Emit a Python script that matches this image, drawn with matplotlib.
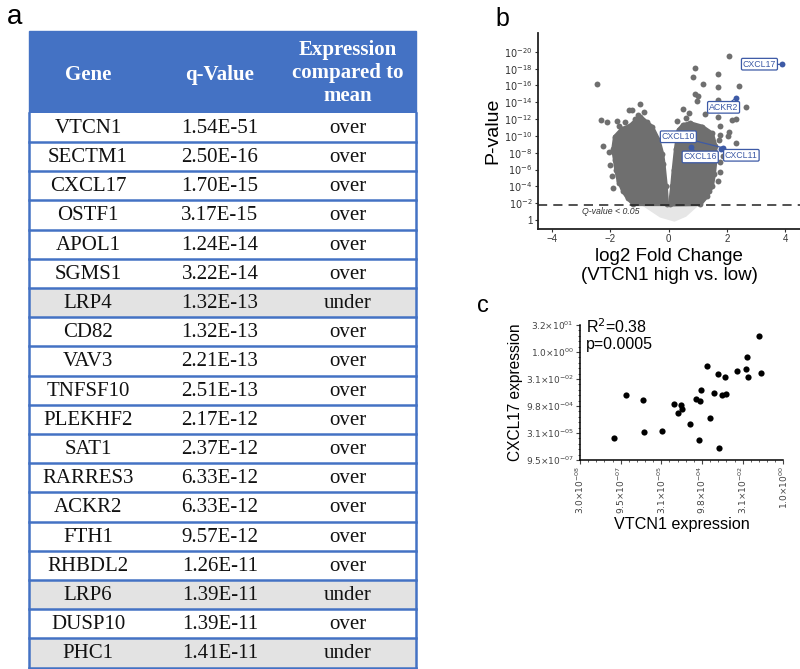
import numpy as np
import matplotlib
matplotlib.use("Agg")
import matplotlib.pyplot as plt
from matplotlib.patches import Rectangle
from matplotlib.ticker import NullFormatter

# ---- panel a: table ----
genes = ["VTCN1", "SECTM1", "CXCL17", "OSTF1", "APOL1", "SGMS1", "LRP4", "CD82",
         "VAV3", "TNFSF10", "PLEKHF2", "SAT1", "RARRES3", "ACKR2", "FTH1",
         "RHBDL2", "LRP6", "DUSP10", "PHC1"]
qvalues = ["1.54E-51", "2.50E-16", "1.70E-15", "3.17E-15", "1.24E-14", "3.22E-14",
           "1.32E-13", "1.32E-13", "2.21E-13", "2.51E-13", "2.17E-12", "2.37E-12",
           "6.33E-12", "6.33E-12", "9.57E-12", "1.26E-11", "1.39E-11", "1.39E-11",
           "1.41E-11"]
expression = ["over", "over", "over", "over", "over", "over", "under", "over",
              "over", "over", "over", "over", "over", "over", "over", "over",
              "under", "over", "under"]
headers = ["Gene", "q-Value", "Expression\ncompared to\nmean"]

# ---- panel b: volcano (x = log2 fold change, y = -log10 p) ----
left_blob_x = [-1.21, -1.4, -1.55, -1.72, -1.8, -1.84, -1.9, -1.84, -1.6, -1.32,
               -0.98, -0.75, -0.58, -0.35, -0.22, -0.18, -0.1, -0.06]
left_blob_y = [1.9, 2.6, 3.4, 4.7, 6.0, 7.1, 8.4, 9.9, 10.8, 11.2,
               12.3, 11.6, 11.1, 9.5, 7.8, 6.7, 4.0, 1.9]
right_blob_x = [0.05, 0.12, 0.17, 0.25, 0.34, 0.5, 0.74, 1.14, 1.48, 1.6,
                1.6, 1.55, 1.48, 1.3, 1.08]
right_blob_y = [1.85, 4.0, 5.9, 8.5, 10.7, 11.3, 11.5, 11.1, 10.3, 8.8,
                7.1, 5.5, 4.0, 2.8, 1.9]
ns_blob_x = [-0.95, 1.05, 0.6, 0.2, -0.3]
ns_blob_y = [1.8, 1.8, 0.4, -0.2, 0.3]
out_x = [-2.47, -0.98, -1.36, -1.25, -1.04, -2.33, -2.1, -1.76, -1.69, -2.26,
         -2.03, -1.84, -1.9, -1.72, -1.55, -1.95, -2.0, -1.5, -1.15, -0.85,
         2.06, 0.89, 1.68, 0.83, 1.16, 2.41, 1.69, 0.89, 1.02, 1.69, 0.97, 2.66,
         0.49, 0.71, 1.25, 1.68, 2.17, 2.32, 1.77, 2.06, 1.77, 2.03, 2.32, 1.75,
         1.75, 1.68, 1.37, 1.25, 1.85, 1.72, 0.3, 0.6]
out_y = [16.2, 13.8, 13.1, 13.1, 12.5, 11.9, 11.7, 11.8, 11.2, 8.8,
         8.1, 8.3, 3.8, 4.4, 3.8, 5.2, 6.5, 11.6, 12.0, 12.8,
         19.5, 18.1, 17.4, 16.95, 16.2, 15.9, 15.8, 15.0, 14.7, 14.3, 14.1, 13.4,
         13.2, 12.7, 12.6, 12.3, 11.9, 12.0, 11.2, 10.5, 10.1, 10.0, 9.2, 6.9,
         5.7, 4.7, 3.5, 3.0, 7.6, 9.5, 11.8, 12.1]
lab_names = ["CXCL17", "ACKR2", "CXCL10", "CXCL16", "CXCL11"]
lab_px = [3.89, 2.3, 1.85, 0.76, 1.79]
lab_py = [18.5, 14.5, 8.6, 8.7, 8.5]
lab_tx = [3.11, 1.88, 0.33, 1.08, 2.49]
lab_ty = [18.53, 13.4, 9.9, 7.5, 7.7]
q_cut = 1.78

# ---- panel c: scatter (log2 units) ----
vtcn1_log2 = [-20.86, -19.34, -17.25, -17.17, -14.95, -13.44, -12.58, -12.5, -12.99,
              -11.51, -10.77, -10.2, -10.12, -10.36, -9.42, -8.97, -8.48, -8.07,
              -7.9, -7.5, -7.04, -7.2, -5.65, -4.62, -4.42, -4.38, -2.94, -2.7]
cxcl17_log2 = [-15.87, -7.96, -8.89, -14.76, -14.57, -9.57, -9.88, -10.62, -11.24,
               -13.39, -8.76, -9.01, -7.04, -16.36, -2.59, -12.28, -7.65, -4.07,
               -17.84, -7.96, -7.84, -4.63, -3.52, -3.09, -0.87, -4.63, 2.96, -3.94]
c_xticks = [-25, -20, -15, -10, -5, 0]
c_xlabels = ["3.0", "9.5", "3.1", "9.8", "3.1", "1.0"]
c_xexp = ["-08", "-07", "-05", "-04", "-02", "00"]
c_yticks = [-20, -15, -10, -5, 0, 5]
c_ylabels = ["9.5", "3.1", "9.8", "3.1", "1.0", "3.2"]
c_yexp = ["-07", "-05", "-04", "-02", "00", "01"]

W, H = 800, 669
fig = plt.figure(figsize=(8, 6.69), dpi=100)
sans = "Liberation Sans"
serif = "Liberation Serif"
blue = "#4472C4"
lblue = "#3d5aa6"

# table drawn in pixel coordinates
ax = fig.add_axes([0, 0, 1, 1])
ax.set_xlim(0, W)
ax.set_ylim(H, 0)
ax.axis("off")
x0, x1 = 28.5, 416
top, hbot = 31, 112.7
rh = (667.5 - hbot) / len(genes)
col_x = [88, 220, 348]
ax.add_patch(Rectangle((x0, top), x1 - x0, hbot - top, color=blue, zorder=1))
ax.text(col_x[0], 75, headers[0], color="white", fontweight="bold", family=serif,
        fontsize=15, ha="center", va="center")
ax.text(col_x[1], 75, headers[1], color="white", fontweight="bold", family=serif,
        fontsize=15, ha="center", va="center")
ax.text(col_x[2], 73, headers[2], color="white", fontweight="bold", family=serif,
        fontsize=15, ha="center", va="center", linespacing=1.2)
for i, g in enumerate(genes):
    y = hbot + i * rh
    fc = "#e3e3e3" if expression[i] == "under" else "white"
    ax.add_patch(Rectangle((x0, y), x1 - x0, rh, fc=fc, ec="none", zorder=1))
    ax.plot([x0, x1], [y + rh, y + rh], color=blue, lw=1.8, zorder=2)
    yc = y + rh / 2 + 1
    for cx, t in zip(col_x, [g, qvalues[i], expression[i]]):
        ax.text(cx, yc, t, family=serif, fontsize=15, ha="center", va="center", color="#111111")
ax.plot([x0, x0], [hbot, hbot + rh * len(genes)], color=blue, lw=1.8, zorder=2)
ax.plot([x1, x1], [hbot, hbot + rh * len(genes)], color=blue, lw=1.8, zorder=2)

fig.text(15 / W, 1 - 17 / H, "a", family=sans, fontsize=20, ha="center", va="center")
fig.text(502 / W, 1 - 19 / H, "b", family=sans, fontsize=18, ha="center", va="center")
fig.text(483 / W, 1 - 306 / H, "c", family=sans, fontsize=17, ha="center", va="center")

# volcano
axv = fig.add_axes([538 / W, 1 - 228.7 / H, 262 / W, (228.7 - 33.3) / H])
gray = "#6f6f6f"
axv.fill(ns_blob_x, ns_blob_y, color="#e6e6e6", lw=0, zorder=1)
axv.fill(left_blob_x, left_blob_y, fc=gray, ec=gray, lw=3, joinstyle="round", zorder=2)
axv.fill(right_blob_x, right_blob_y, fc=gray, ec=gray, lw=3, joinstyle="round", zorder=2)
axv.scatter(left_blob_x + right_blob_x, left_blob_y + right_blob_y, s=18, color=gray,
            lw=0, zorder=2)
axv.scatter(out_x, out_y, s=18, color=gray, lw=0, zorder=3)
axv.scatter(lab_px, lab_py, s=18, color=lblue, lw=0, zorder=4)
for n, px, py, tx, ty in zip(lab_names, lab_px, lab_py, lab_tx, lab_ty):
    axv.annotate(n, xy=(px, py), xytext=(tx, ty), fontsize=6.3, color=lblue,
                 family=sans, ha="center", va="center", zorder=5,
                 bbox=dict(boxstyle="round,pad=0.15", fc="white", ec=lblue, lw=0.9),
                 arrowprops=dict(arrowstyle="-", color=lblue, lw=0.9, shrinkA=0, shrinkB=0))
axv.axhline(q_cut, color="#222222", lw=1.1, ls=(0, (6, 4)), zorder=4)
axv.text(-2.0, 1.0, "Q-value < 0.05", fontsize=6.3, style="italic", family=sans,
         ha="center", va="center", color="#333333")
axv.set_xlim(-4.48, 4.5)
axv.set_ylim(-1.03, 22.2)
axv.set_xticks([-4, -2, 0, 2, 4])
axv.set_xticklabels(["\u22124", "\u22122", "0", "2", "4"])
yt = list(range(0, 21, 2))
axv.set_yticks(yt)
axv.set_yticklabels(["1"] + [r"$10^{-%d}$" % v for v in yt[1:]])
axv.tick_params(labelsize=7, length=2.5, width=0.8, pad=1.5, colors="#333333")
for lab in axv.get_xticklabels() + axv.get_yticklabels():
    lab.set_family(sans)
for s in ["top", "right"]:
    axv.spines[s].set_visible(False)
for s in ["left", "bottom"]:
    axv.spines[s].set_linewidth(1.3)
    axv.spines[s].set_color("#222222")
axv.set_ylabel("P-value", family=sans, fontsize=14, labelpad=2)
axv.set_xlabel("log2 Fold Change\n(VTCN1 high vs. low)", family=sans, fontsize=13.5,
               labelpad=3, linespacing=1.1)

# scatter
axc = fig.add_axes([580 / W, 1 - 460 / H, 203.3 / W, (460 - 325) / H])
axc.scatter(np.power(2.0, vtcn1_log2), np.power(2.0, cxcl17_log2), s=20, color="black", lw=0)
axc.set_xscale("log", base=2)
axc.set_yscale("log", base=2)
axc.set_xlim(2.0 ** -25, 2.0 ** 0)
axc.set_ylim(2.0 ** -20, 2.0 ** 5)
axc.set_xticks([2.0 ** v for v in c_xticks])
axc.set_xticklabels([r"$%s{\times}10^{%s}$" % (a, b) for a, b in zip(c_xlabels, c_xexp)],
                    rotation=90)
axc.set_yticks([2.0 ** v for v in c_yticks])
axc.set_yticklabels([r"$%s{\times}10^{%s}$" % (a, b) for a, b in zip(c_ylabels, c_yexp)])
axc.set_xticks([2.0 ** v for v in range(-25, 1)], minor=True)
axc.set_yticks([2.0 ** v for v in range(-20, 6)], minor=True)
axc.xaxis.set_minor_formatter(NullFormatter())
axc.yaxis.set_minor_formatter(NullFormatter())
axc.tick_params(which="major", labelsize=6.5, length=3, width=0.8, pad=1.5, colors="#444444")
axc.tick_params(which="minor", length=1.5, width=0.6, colors="#444444")
for s in ["top", "right"]:
    axc.spines[s].set_visible(False)
for s in ["left", "bottom"]:
    axc.spines[s].set_linewidth(1.1)
axc.text(0.03, 1.06, "R$^2$=0.38\np=0.0005", transform=axc.transAxes, family=sans,
         fontsize=11.5, va="top", ha="left", linespacing=1.1)
axc.set_ylabel("CXCL17 expression", family=sans, fontsize=11.2, labelpad=2)
axc.set_xlabel("VTCN1 expression", family=sans, fontsize=11.6, labelpad=2)

fig.savefig("out.png", dpi=100)
